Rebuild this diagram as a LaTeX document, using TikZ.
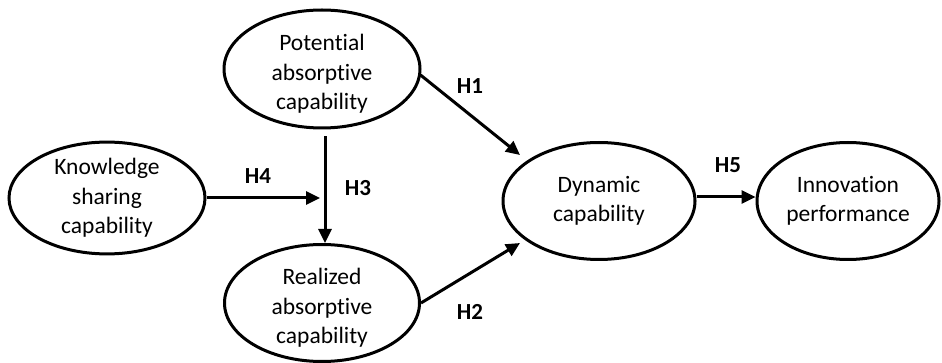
\documentclass[tikz,border=0pt]{standalone}
\usepackage{fontspec}
\setmainfont{Carlito}[Ligatures=NoCommon]
\usetikzlibrary{shapes.geometric,arrows.meta,calc}
\begin{document}
\begin{tikzpicture}[x=1pt,y=-1pt,
  txt/.style={align=center,inner sep=0pt,font=\fontsize{23.5}{29.5}\selectfont},
  constr/.style={ellipse,draw,line width=3pt,inner sep=0pt,txt},
  hyp/.style={font=\fontsize{23}{26}\selectfont\bfseries,inner sep=0pt},
  link/.style={line width=3pt,-{Triangle[length=14pt,width=13pt]}}]
\useasboundingbox (0,0) rectangle (942,363);
\node[constr,minimum width=196pt,minimum height=100pt] (KS) at (107,198) {Knowledge\\sharing\\capability};
\node[constr,minimum width=196pt,minimum height=118pt] (PA) at (322,69) {};
\node[txt] (PAt) at (322,74) {Potential\\absorptive\\capability};
\node[constr,minimum width=195pt,minimum height=117pt] (RA) at (322,303) {};
\node[txt] (RAt) at (322,308) {Realized\\absorptive\\capability};
\node[constr,minimum width=192pt,minimum height=117pt] (DC) at (599,201) {Dynamic\\capability};
\node[constr,minimum width=182pt,minimum height=117pt] (IP) at (848,201) {Innovation\\performance};
\coordinate (H4end) at (320,198);
\draw[link] ([shift={(3,7)}]PA.south) -- ([xshift=3pt]RA.north);
\draw[link] (KS.east) -- (H4end);
\draw[link] ([shift={(-1,6)}]PA.east) -- ([shift={(-79,-46)}]DC.center);
\draw[link] (RA.east) -- ([shift={(-79,42)}]DC.center);
\draw[link] ([yshift=4pt]DC.east) -- ([yshift=4pt]IP.west);
\node[hyp] (h1) at (470,86) {H1};
\node[hyp] (h2) at (470,312) {H2};
\node[hyp] (h3) at (358,188) {H3};
\node[hyp] (h4) at (258,176) {H4};
\node[hyp] (h5) at (728,165) {H5};
\end{tikzpicture}
\end{document}
